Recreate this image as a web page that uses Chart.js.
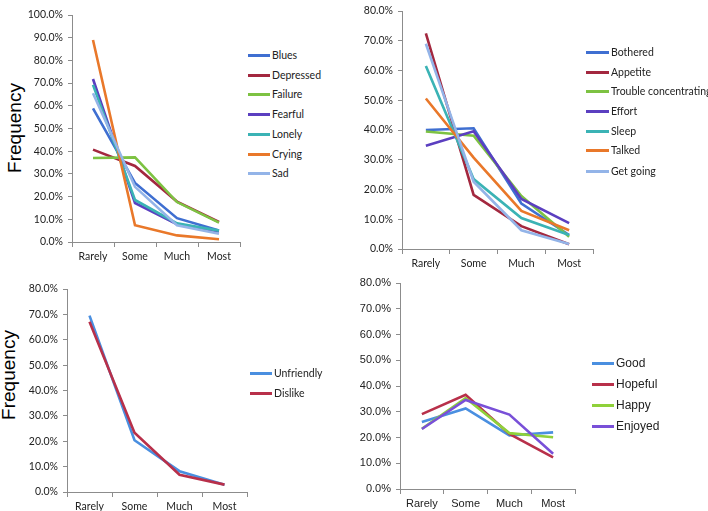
<!DOCTYPE html>
<html>
<head>
<meta charset="utf-8">
<script src="https://cdn.jsdelivr.net/npm/chart.js@4.4.1/dist/chart.umd.min.js"></script>
<style>
  html, body { margin: 0; padding: 0; background: #fff; }
  body { width: 708px; height: 511px; position: relative; overflow: hidden; }
  canvas { position: absolute; }
  .ytitle { position: absolute; font-family: "Liberation Sans", Arial, sans-serif; font-size: 19px; color: #000;
            transform: translate(-50%, -50%) rotate(-90deg); white-space: nowrap; }
  .leg { position: absolute; white-space: nowrap; color: #222; }
  .leg .sw { position: absolute; height: 3px; }
  .leg .tx { position: absolute; transform: translateY(-50%); }
</style>
</head>
<body>
<script>
// ---------- data ----------
const categories = ['Rarely', 'Some', 'Much', 'Most'];

// Panel 1
const p1Names = ['Blues', 'Depressed', 'Failure', 'Fearful', 'Lonely', 'Crying', 'Sad'];
const blues     = [58.9, 26.0, 10.5, 5.1];
const depressed = [40.7, 33.5, 17.8, 8.8];
const failure   = [37.0, 37.3, 17.6, 8.5];
const fearful   = [71.8, 17.2, 7.8, 4.6];
const lonely    = [69.2, 18.5, 8.2, 5.0];
const crying    = [89.0, 7.4, 2.9, 1.2];
const sad       = [65.5, 24.3, 7.4, 3.6];

// Panel 2
const p2Names = ['Bothered', 'Appetite', 'Trouble concentrating', 'Effort', 'Sleep', 'Talked', 'Get going'];
const bothered = [40.0, 40.6, 15.3, 4.7];
const appetite = [72.5, 18.2, 7.7, 1.6];
const trouble  = [39.5, 38.1, 17.8, 4.1];
const effort   = [34.7, 39.6, 16.8, 8.7];
const sleep    = [61.5, 23.5, 10.4, 4.7];
const talked   = [50.6, 30.7, 12.8, 6.3];
const getGoing = [69.0, 22.6, 6.3, 1.7];

// Panel 3
const p3Names = ['Unfriendly', 'Dislike'];
const unfriendly = [69.5, 20.4, 8.2, 2.9];
const dislike    = [67.1, 23.4, 6.8, 2.9];

// Panel 4
const p4Names = ['Good', 'Hopeful', 'Happy', 'Enjoyed'];
const good    = [26.0, 31.3, 20.8, 22.0];
const hopeful = [29.1, 36.6, 21.4, 12.3];
const happy   = [23.4, 35.3, 21.7, 20.1];
const enjoyed = [23.3, 34.6, 28.9, 13.7];

const yMax1 = 100, yMax2 = 80, yMax3 = 80, yMax4 = 80;
const yStep = 10;

// ---------- styling ----------
const palette7 = ['#3F6FD1', '#A3283F', '#7DC242', '#5B3FC0', '#3BB3B5', '#E9782A', '#93B4E8'];
const palette4 = ['#4A8FE0', '#B8304A', '#8FD13A', '#7950D8'];

function makePanel(opt) {
  const yw = 46, xh = 28, padT = 12, padR = 8;
  const cv = document.createElement('canvas');
  const w = (opt.R - opt.L) + yw + padR;
  const h = (opt.B - opt.T) + padT + xh;
  cv.width = w; cv.height = h;
  cv.style.left = (opt.L - yw) + 'px';
  cv.style.top = (opt.T - padT) + 'px';
  cv.style.width = w + 'px'; cv.style.height = h + 'px';
  document.body.appendChild(cv);
  const n = opt.series.length;
  new Chart(cv, {
    type: 'line',
    data: {
      labels: categories,
      datasets: opt.series.map((s, i) => ({
        label: opt.names[i], data: s, borderColor: opt.colors[i], backgroundColor: opt.colors[i],
        borderWidth: 2.6, pointRadius: 0, tension: 0, fill: false, order: n - i
      }))
    },
    options: {
      responsive: false, animation: false,
      layout: { padding: { top: padT, right: padR, left: 0, bottom: 0 } },
      plugins: { legend: { display: false }, tooltip: { enabled: false } },
      scales: {
        x: {
          offset: true,
          grid: { offset: true, drawOnChartArea: false, drawTicks: true, tickLength: 5, color: '#8C8C8C' },
          border: { color: '#8C8C8C', width: 1 },
          ticks: { color: '#222', font: { family: opt.font, size: opt.fs }, padding: 3, maxRotation: 0, autoSkip: false },
          afterFit: (s) => { s.height = xh; }
        },
        y: {
          min: 0, max: opt.max,
          grid: { drawOnChartArea: false, drawTicks: true, tickLength: 4, color: '#8C8C8C' },
          border: { color: '#8C8C8C', width: 1 },
          ticks: { stepSize: yStep, color: '#222', font: { family: opt.font, size: opt.fs }, padding: 5,
                   callback: (v) => v.toFixed(1) + '%' },
          afterFit: (s) => { s.width = yw; }
        }
      }
    }
  });
  // legend
  opt.names.forEach((nm, i) => {
    const d = document.createElement('div');
    d.className = 'leg';
    d.style.left = opt.legX + 'px';
    d.style.top = opt.legY[i] + 'px';
    d.style.fontFamily = opt.font;
    d.style.fontSize = opt.legFs + 'px';
    const sw = document.createElement('div');
    sw.className = 'sw';
    sw.style.left = '0px'; sw.style.top = '-1.5px'; sw.style.width = opt.legW + 'px';
    sw.style.background = opt.colors[i];
    const tx = document.createElement('div');
    tx.className = 'tx';
    tx.style.left = (opt.legW + 2) + 'px'; tx.style.top = '0px';
    tx.textContent = nm;
    d.appendChild(sw); d.appendChild(tx);
    document.body.appendChild(d);
  });
}

const calib = 'Lato, "Open Sans", sans-serif';
const arial = '"Liberation Sans", Arial, sans-serif';

makePanel({ L: 72, R: 240, T: 15, B: 242, max: yMax1, font: calib, fs: 10.5,
  series: [blues, depressed, failure, fearful, lonely, crying, sad], names: p1Names, colors: palette7,
  legX: 248, legW: 22, legY: [55, 75, 94, 114, 134, 154, 173], legFs: 10.5 });

makePanel({ L: 402, R: 593, T: 11, B: 249, max: yMax2, font: calib, fs: 10.5,
  series: [bothered, appetite, trouble, effort, sleep, talked, getGoing], names: p2Names, colors: palette7,
  legX: 586, legW: 23, legY: [52, 72, 91, 111, 131, 150, 171], legFs: 10.5 });

makePanel({ L: 67, R: 247, T: 289, B: 492, max: yMax3, font: calib, fs: 10.5,
  series: [unfriendly, dislike], names: p3Names, colors: palette4,
  legX: 250, legW: 22, legY: [373, 393], legFs: 10.5 });

makePanel({ L: 400, R: 575, T: 283, B: 489, max: yMax4, font: arial, fs: 11,
  series: [good, hopeful, happy, enjoyed], names: p4Names, colors: palette4,
  legX: 592, legW: 22, legY: [363, 384, 405, 426], legFs: 12 });

// axis titles
[[15, 128], [9, 375]].forEach(([x, y]) => {
  const t = document.createElement('div');
  t.className = 'ytitle';
  t.style.left = x + 'px'; t.style.top = y + 'px';
  t.textContent = 'Frequency';
  document.body.appendChild(t);
});
</script>
</body>
</html>
